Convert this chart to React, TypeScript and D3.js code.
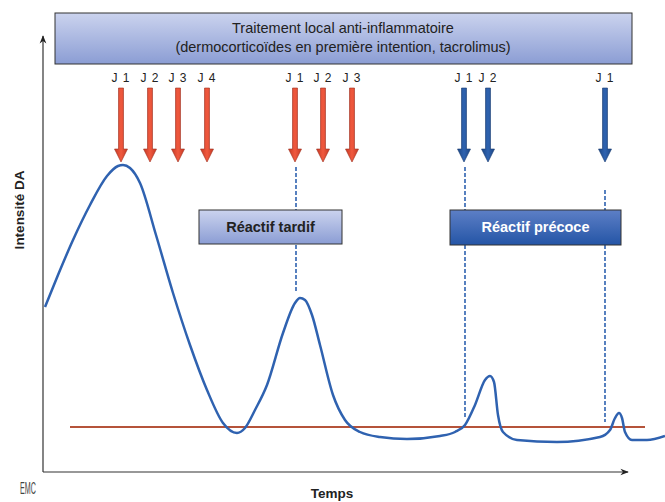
import React from 'react';
import * as d3 from 'd3';

// curve: time (arbitrary units) vs intensity
const time = [0.2, 1.5, 3.0, 4.7, 6.4, 7.5, 8.0, 8.7, 9.7, 11.3, 13.0, 14.7, 16.4, 18.0, 19.4, 20.2, 21.2, 22.4, 24.0, 25.2, 25.7, 26.2, 26.9, 27.7, 29.0, 30.2, 31.7, 33.7, 36.4, 39.7, 41.2, 42.2, 43.2, 44.2, 44.7, 45.1, 45.5, 46.0, 47.4, 51.4, 55.7, 56.7, 57.2, 57.6, 57.9, 58.2, 58.9, 60.4, 62.2];
const intensity = [16.5, 19.7, 23.2, 26.7, 29.6, 30.6, 30.7, 30.4, 28.9, 23.7, 17.9, 12.7, 8.2, 4.9, 3.9, 4.4, 6.2, 8.7, 13.9, 16.9, 17.4, 17.2, 15.7, 12.7, 7.7, 5.2, 4.0, 3.5, 3.3, 3.6, 4.0, 4.7, 6.7, 9.2, 9.6, 9.0, 5.7, 4.0, 3.2, 3.0, 3.5, 4.2, 5.4, 5.9, 5.4, 4.0, 3.2, 3.2, 3.6];

const baselineLevel = 4.5;
const baselineRange = [2.7, 60.2];

const arrowTimes = [7.8, 10.7, 13.5, 16.4, 25.2, 28.0, 30.9, 42.1, 44.5, 56.2];
const arrowLabels = ['J 1', 'J 2', 'J 3', 'J 4', 'J 1', 'J 2', 'J 3', 'J 1', 'J 2', 'J 1'];
const arrowKinds = ['late', 'late', 'late', 'late', 'late', 'late', 'late', 'early', 'early', 'early'];

const dashTimes = [25.3, 42.2, 56.2];

const W = 665;
const H = 502;

export default function App() {
  const x = d3.scaleLinear().domain([0, 62]).range([43, 663]);
  const y = d3.scaleLinear().domain([0, 43.4]).range([472, 38]);

  const line = d3.line<number>()
    .x((_, i) => x(time[i]))
    .y(d => y(d))
    .curve(d3.curveMonotoneX);

  const pathD = line(intensity) || '';

  const arrowPath = (cx: number) => {
    const top = 88, neck = 149, tip = 162;
    return `M${cx - 2.5},${top} L${cx + 2.5},${top} L${cx + 2.5},${neck} L${cx + 6.5},${neck} L${cx},${tip} L${cx - 6.5},${neck} L${cx - 2.5},${neck} Z`;
  };

  const font = 'Liberation Sans, Arial, sans-serif';

  return (
    <svg width={W} height={H} style={{ position: 'absolute', left: 0, top: 0, background: '#fff' }} fontFamily={font}>
      <defs>
        <linearGradient id="light" x1="0" y1="0" x2="0" y2="1">
          <stop offset="0%" stopColor="#cbd3ee" />
          <stop offset="100%" stopColor="#8b9dd4" />
        </linearGradient>
        <linearGradient id="dark" x1="0" y1="0" x2="0" y2="1">
          <stop offset="0%" stopColor="#5d7fc6" />
          <stop offset="100%" stopColor="#2455a6" />
        </linearGradient>
        <linearGradient id="redArrow" x1="0" y1="0" x2="1" y2="0">
          <stop offset="0%" stopColor="#c63a26" />
          <stop offset="50%" stopColor="#f0593e" />
          <stop offset="100%" stopColor="#c63a26" />
        </linearGradient>
        <linearGradient id="blueArrow" x1="0" y1="0" x2="1" y2="0">
          <stop offset="0%" stopColor="#1d4785" />
          <stop offset="50%" stopColor="#2f63b0" />
          <stop offset="100%" stopColor="#1d4785" />
        </linearGradient>
        <marker id="ah" viewBox="0 0 10 10" refX="9" refY="5" markerWidth="7" markerHeight="7" orient="auto">
          <path d="M0,1 L10,5 L0,9 L3,5 Z" fill="#222" />
        </marker>
      </defs>

      {/* top box */}
      <rect x={55} y={13} width={577} height={51} fill="url(#light)" stroke="#333" strokeWidth={1} />
      <text x={343} y={33} textAnchor="middle" fontSize={14.5} fill="#222">Traitement local anti-inflammatoire</text>
      <text x={343} y={52} textAnchor="middle" fontSize={14.5} fill="#222">(dermocorticoïdes en première intention, tacrolimus)</text>

      {/* axes */}
      <line x1={x(0)} y1={472} x2={x(0)} y2={36} stroke="#333" strokeWidth={1.2} markerEnd="url(#ah)" />
      <line x1={x(0)} y1={472} x2={628} y2={472} stroke="#333" strokeWidth={1.2} markerEnd="url(#ah)" />
      <text transform={`translate(24,210) rotate(-90)`} textAnchor="middle" fontSize={13.5} fontWeight="bold" fill="#222">Intensité DA</text>
      <text x={332} y={498} textAnchor="middle" fontSize={13.5} fontWeight="bold" fill="#222">Temps</text>
      <text transform="translate(28,494) scale(0.42,1)" textAnchor="middle" fontSize={17} fill="#444">EMC</text>

      {/* dashed guides */}
      {dashTimes.map((t, i) => {
        const cx = x(t);
        const segs = i === 0 ? [[167, 210], [245, 293]] : i === 1 ? [[167, 210], [245, 417]] : [[190, 210], [245, 422]];
        return segs.map((s, j) => (
          <line key={`d${i}${j}`} x1={cx} x2={cx} y1={s[0]} y2={s[1]} stroke="#2f62b0" strokeWidth={1.6} strokeDasharray="4,2" />
        ));
      })}

      {/* arrows */}
      {arrowTimes.map((t, i) => (
        <g key={`a${i}`}>
          <text x={x(t)} y={82} textAnchor="middle" fontSize={12} fill="#222" letterSpacing="1">{arrowLabels[i]}</text>
          <path d={arrowPath(x(t))} fill={arrowKinds[i] === 'late' ? 'url(#redArrow)' : 'url(#blueArrow)'}
            stroke={arrowKinds[i] === 'late' ? '#9e2f1e' : '#173a70'} strokeWidth={0.6} />
        </g>
      ))}

      {/* reaction boxes */}
      <rect x={199} y={210} width={143} height={34} fill="url(#light)" stroke="#333" strokeWidth={1} />
      <text x={270.5} y={232} textAnchor="middle" fontSize={14.5} fontWeight="bold" fill="#222">Réactif tardif</text>
      <rect x={450} y={210} width={171} height={35} fill="url(#dark)" stroke="#333" strokeWidth={1} />
      <text x={535.5} y={232} textAnchor="middle" fontSize={14.5} fontWeight="bold" fill="#fff">Réactif précoce</text>

      {/* baseline */}
      <line x1={x(baselineRange[0])} x2={x(baselineRange[1])} y1={y(baselineLevel)} y2={y(baselineLevel)} stroke="#b5533a" strokeWidth={2} />

      {/* curve */}
      <path d={pathD} fill="none" stroke="#2f62b0" strokeWidth={2.5} strokeLinejoin="round" />
    </svg>
  );
}
